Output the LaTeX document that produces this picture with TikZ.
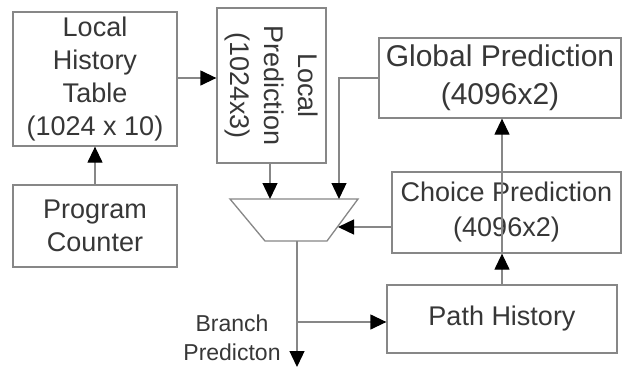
\documentclass[tikz,border=0pt]{standalone}
\usepackage{fontspec}
\setmainfont{Liberation Sans}
\usetikzlibrary{arrows.meta}

\definecolor{boxgray}{RGB}{135,135,135}
\definecolor{textgray}{RGB}{55,55,55}

\tikzset{
  unit/.style={draw=boxgray, line width=1.3pt, text=textgray, align=center, inner sep=0pt,
    font=\fontsize{27}{33}\selectfont},
  wire/.style={draw=boxgray, line width=1.3pt, -{Triangle[length=16pt,width=15pt,black]}},
}

\begin{document}
\begin{tikzpicture}[x=1pt,y=-1pt]
\useasboundingbox[fill=white] (0,0) rectangle (623,375);

% tables
\node[unit, minimum width=164pt, minimum height=134pt] (lht) at (95,79) {Local\\History\\Table\\(1024 x 10)};
\node[unit, minimum width=164pt, minimum height=82pt] (pc) at (95,226) {Program\\Counter};
\node[unit, minimum width=109pt, minimum height=155pt] (lpred) at (271.5,85.5) {};
\node[text=textgray, align=center, rotate=-90, font=\fontsize{27}{34}\selectfont] (lpredtxt) at (lpred.center) {Local\\Prediction\\(1024x3)};
\node[unit, minimum width=242pt, minimum height=80pt, font=\fontsize{30}{38}\selectfont] (gpred) at (500,78) {Global Prediction\\(4096x2)};
\node[unit, minimum width=229pt, minimum height=81pt, font=\fontsize{27}{35}\selectfont] (cpred) at (506.5,212.5) {Choice Prediction\\(4096x2)};
\node[unit, minimum width=230pt, minimum height=68pt] (path) at (502,319) {Path History};

% selector
\draw[boxgray, line width=1.3pt] (230,199) -- (358,199) -- (327,241) -- (265,241) -- cycle;
\coordinate (muxl) at (270,199);
\coordinate (muxg) at (339,199);
\coordinate (muxc) at (338,227);
\coordinate (muxo) at (297,241);
\coordinate (split) at (297,322);
\coordinate (out) at (297,367);

% connectors
\draw[wire] (pc) -- (lht);
\draw[wire] (lht.east |- 0,78) -- (lpred.west |- 0,78);
\draw[wire] (lpred.south -| muxl) -- (muxl);
\draw[wire] (gpred.west) -| (muxg);
\draw[wire] (cpred.west |- muxc) -- (muxc);
\draw[wire] (path.north -| 502,0) -- (cpred.south -| 502,0);
\draw[wire] (cpred.south -| 502,0) -- (gpred.south -| 502,0);
\draw[wire] (muxo) -- (out);
\draw[wire] (split) -- (path.west |- split);

\node[text=textgray, align=center, font=\fontsize{23}{29}\selectfont] (bp) at (232,338) {Branch\\Predicton};
\end{tikzpicture}
\end{document}
